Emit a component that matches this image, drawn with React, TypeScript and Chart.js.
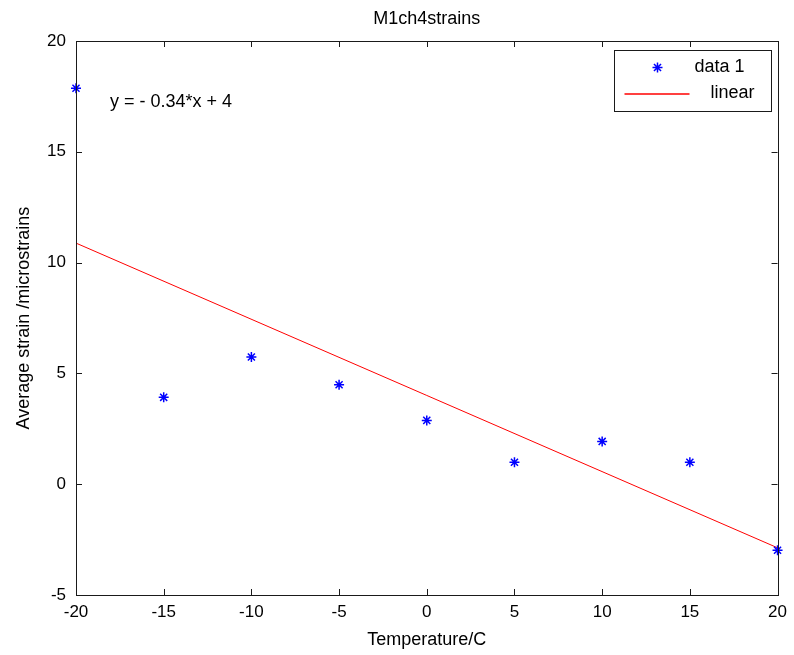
import React, { useEffect, useRef } from "react";
import { Chart, registerables } from "chart.js";

Chart.register(...registerables);

const temperatures = [-20, -15, -10, -5, 0, 5, 10, 15, 20];
const strains = [17.87, 3.92, 5.74, 4.49, 2.88, 0.99, 1.93, 0.99, -2.98];
const fitX = [-20, 20];
const fitY = [10.88, -2.87];
const xTicks = [-20, -15, -10, -5, 0, 5, 10, 15, 20];
const yTicks = [-5, 0, 5, 10, 15, 20];
const titleText = "M1ch4strains";
const xTitle = "Temperature/C";
const yTitle = "Average strain /microstrains";
const equationText = "y = - 0.34*x + 4";
const seriesLabels = ["data 1", "linear"];

const FONT = "'Liberation Sans', Arial, sans-serif";
const BLUE = "#0000ff";
const RED = "#ff0000";
const AXIS = "#1a1a1a";

function drawStar(ctx: CanvasRenderingContext2D, x: number, y: number, r: number) {
  ctx.beginPath();
  ctx.moveTo(x - r, y);
  ctx.lineTo(x + r, y);
  ctx.moveTo(x, y - r);
  ctx.lineTo(x, y + r);
  const d = r * Math.SQRT1_2;
  ctx.moveTo(x - d, y - d);
  ctx.lineTo(x + d, y + d);
  ctx.moveTo(x - d, y + d);
  ctx.lineTo(x + d, y - d);
  ctx.stroke();
}

const framePlugin = {
  id: "matlabFrame",
  afterDraw(chart: any) {
    const { ctx, chartArea } = chart;
    const { left, right, top, bottom } = chartArea;
    const xs = chart.scales.x;
    const ys = chart.scales.y;
    ctx.save();
    ctx.strokeStyle = AXIS;
    ctx.lineWidth = 1;
    ctx.strokeRect(Math.round(left) + 0.5, Math.round(top) + 0.5, Math.round(right - left), Math.round(bottom - top));
    const tl = 6;
    ctx.beginPath();
    xTicks.forEach((v) => {
      const px = Math.round(xs.getPixelForValue(v)) + 0.5;
      ctx.moveTo(px, bottom);
      ctx.lineTo(px, bottom - tl);
      ctx.moveTo(px, top);
      ctx.lineTo(px, top + tl);
    });
    yTicks.forEach((v) => {
      const py = Math.round(ys.getPixelForValue(v)) + 0.5;
      ctx.moveTo(left, py);
      ctx.lineTo(left + tl, py);
      ctx.moveTo(right, py);
      ctx.lineTo(right - tl, py);
    });
    ctx.stroke();

    // equation text
    ctx.fillStyle = "#000";
    ctx.font = `18px ${FONT}`;
    ctx.textBaseline = "middle";
    ctx.textAlign = "left";
    ctx.fillText(equationText, left + 34, top + 61);

    // legend
    const bw = 157;
    const bh = 61;
    const bx = Math.round(right - 7 - bw) + 0.5;
    const by = Math.round(top + 9) + 0.5;
    ctx.fillStyle = "#fff";
    ctx.fillRect(bx, by, bw, bh);
    ctx.strokeStyle = AXIS;
    ctx.lineWidth = 1;
    ctx.strokeRect(bx, by, bw, bh);
    ctx.strokeStyle = BLUE;
    ctx.lineWidth = 1.5;
    drawStar(ctx, bx + 43, by + 17, 5);
    ctx.beginPath();
    ctx.strokeStyle = RED;
    ctx.lineWidth = 1.5;
    ctx.moveTo(bx + 10, by + 43.5);
    ctx.lineTo(bx + 75, by + 43.5);
    ctx.stroke();
    ctx.fillStyle = "#000";
    ctx.fillText(seriesLabels[0], bx + 80, by + 17);
    ctx.fillText(seriesLabels[1], bx + 96, by + 43);
    ctx.restore();
  },
};

export default function App() {
  const ref = useRef<HTMLCanvasElement | null>(null);
  useEffect(() => {
    document.body.style.margin = "0";
    const canvas = ref.current;
    if (!canvas) return;
    const chart = new Chart(canvas, {
      type: "scatter",
      data: {
        datasets: [
          {
            label: seriesLabels[0],
            data: temperatures.map((t, i) => ({ x: t, y: strains[i] })),
            pointStyle: "star",
            pointRadius: 5,
            pointBorderColor: BLUE,
            pointBackgroundColor: BLUE,
            pointBorderWidth: 1.5,
            borderColor: BLUE,
            showLine: false,
            clip: false,
          } as any,
          {
            label: seriesLabels[1],
            data: fitX.map((t, i) => ({ x: t, y: fitY[i] })),
            showLine: true,
            borderColor: RED,
            borderWidth: 1,
            pointRadius: 0,
          } as any,
        ],
      },
      options: {
        responsive: false,
        animation: false,
        events: [],
        layout: { padding: { left: 0, right: 15, top: 0, bottom: 0 } },
        plugins: {
          legend: { display: false },
          tooltip: { enabled: false },
          title: {
            display: true,
            fullSize: false,
            text: titleText,
            color: "#000",
            font: { family: FONT, size: 18, weight: "normal" },
            padding: { top: 8, bottom: 11.4 },
          },
        },
        scales: {
          x: {
            type: "linear",
            min: -20,
            max: 20,
            grid: { display: false, drawTicks: false },
            border: { display: false },
            afterBuildTicks: (s: any) => {
              s.ticks = xTicks.map((v) => ({ value: v }));
            },
            afterFit: (s: any) => {
              s.height = 60;
            },
            ticks: {
              color: "#000",
              font: { family: FONT, size: 17 },
              padding: 7,
              maxRotation: 0,
              autoSkip: false,
            },
            title: {
              display: true,
              text: xTitle,
              color: "#000",
              font: { family: FONT, size: 18 },
              padding: { top: 0, bottom: 4 },
            },
          },
          y: {
            type: "linear",
            min: -5,
            max: 20,
            grid: { display: false, drawTicks: false },
            border: { display: false },
            afterBuildTicks: (s: any) => {
              s.ticks = yTicks.map((v) => ({ value: v }));
            },
            afterFit: (s: any) => {
              s.width = 76;
            },
            ticks: {
              color: "#000",
              font: { family: FONT, size: 17 },
              padding: 10,
              autoSkip: false,
            },
            title: {
              display: true,
              text: yTitle,
              color: "#000",
              font: { family: FONT, size: 18 },
              padding: { top: 13, bottom: 0 },
            },
          },
        },
      },
      plugins: [framePlugin],
    });
    return () => chart.destroy();
  }, []);
  return (
    <div style={{ width: 794, height: 655, background: "#fff" }}>
      <canvas ref={ref} width={794} height={655} />
    </div>
  );
}
